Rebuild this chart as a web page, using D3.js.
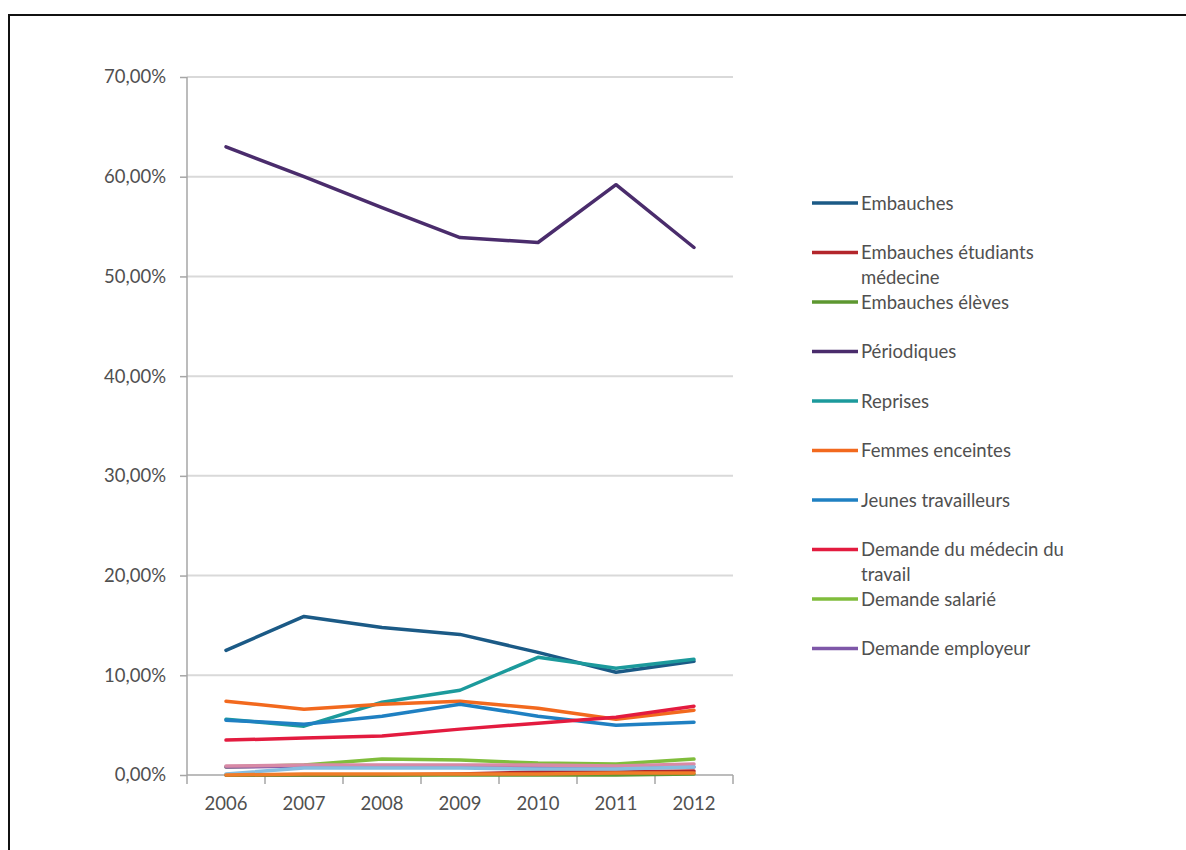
<!DOCTYPE html>
<html lang="fr">
<head>
<meta charset="utf-8">
<script src="https://cdn.jsdelivr.net/npm/d3@7/dist/d3.min.js"></script>
<style>
  html, body { margin: 0; padding: 0; background: #fff; }
  svg { display: block; }
  text { font-family: Lato, "Open Sans", sans-serif; fill: #505050; }
</style>
</head>
<body>
<svg id="chart" width="1186" height="850"></svg>
<script>
// Années en abscisse
const years = ["2006", "2007", "2008", "2009", "2010", "2011", "2012"];

// Graduations de l'axe vertical (proportions)
const yTicks = [0, 0.1, 0.2, 0.3, 0.4, 0.5, 0.6, 0.7];

// Part de chaque type de visite, par année
const embauches           = [0.125, 0.159, 0.148, 0.141, 0.123, 0.103, 0.114];
const embauchesEtudiants  = [0.000, 0.000, 0.000, 0.001, 0.003, 0.003, 0.004];
const embauchesEleves     = [0.000, 0.000, 0.000, 0.000, 0.000, 0.000, 0.001];
const periodiques         = [0.630, 0.600, 0.569, 0.539, 0.534, 0.592, 0.529];
const reprises            = [0.056, 0.049, 0.073, 0.085, 0.118, 0.107, 0.116];
const femmesEnceintes     = [0.074, 0.066, 0.071, 0.074, 0.067, 0.056, 0.065];
const jeunesTravailleurs  = [0.055, 0.051, 0.059, 0.071, 0.059, 0.050, 0.053];
const demandeMedecin      = [0.035, 0.037, 0.039, 0.046, 0.052, 0.058, 0.069];
const demandeSalarie      = [0.008, 0.010, 0.016, 0.015, 0.012, 0.011, 0.016];
const demandeEmployeur    = [0.008, 0.009, 0.008, 0.008, 0.007, 0.007, 0.008];
const autresVisites       = [0.009, 0.010, 0.010, 0.010, 0.010, 0.009, 0.011];
const preReprises         = [0.001, 0.007, 0.007, 0.007, 0.006, 0.006, 0.008];
const surveillance        = [0.000, 0.001, 0.001, 0.001, 0.001, 0.002, 0.002];

const seriesNames = [
  "Embauches", "Embauches étudiants médecine", "Embauches élèves", "Périodiques",
  "Reprises", "Femmes enceintes", "Jeunes travailleurs", "Demande du médecin du travail",
  "Demande salarié", "Demande employeur", "Autres visites", "Pré-reprises", "Surveillance"
];
const seriesValues = [
  embauches, embauchesEtudiants, embauchesEleves, periodiques, reprises, femmesEnceintes,
  jeunesTravailleurs, demandeMedecin, demandeSalarie, demandeEmployeur,
  autresVisites, preReprises, surveillance
];
const seriesColors = [
  "#1b5a86", "#b3262b", "#5d9730", "#4a2c6c", "#1c9a9c", "#f2691e",
  "#1f80c2", "#e31b3f", "#80bd3c", "#7e57a8", "#d88aa6", "#86bde0", "#f07c28"
];
// Nombre de séries présentes dans la légende
const legendCount = 10;

const FONT = 18.5;
const svg = d3.select("#chart");

// Cadre
svg.append("path")
  .attr("d", "M9,850 L9,15 L1186,15")
  .attr("fill", "none")
  .attr("stroke", "#111")
  .attr("stroke-width", 2);

const plot = { left: 187, right: 733, top: 77, bottom: 775 };

const x = d3.scaleBand().domain(years).range([plot.left, plot.right]);
const y = d3.scaleLinear().domain([0, 0.7]).range([plot.bottom, plot.top]);

const fmt = v => d3.format(".2f")(v * 100).replace(".", ",") + "%";

// Quadrillage horizontal
svg.append("g")
  .selectAll("line")
  .data(yTicks.filter(t => t > 0))
  .join("line")
  .attr("x1", plot.left).attr("x2", plot.right)
  .attr("y1", d => y(d)).attr("y2", d => y(d))
  .attr("stroke", "#d9d9d9")
  .attr("stroke-width", 2);

// Axe vertical
const yAxis = svg.append("g")
  .attr("transform", `translate(${plot.left},0)`)
  .call(d3.axisLeft(y).tickValues(yTicks).tickFormat(fmt).tickSize(7).tickPadding(14));
yAxis.select(".domain").attr("stroke", "#a6a6a6").attr("stroke-width", 1.5)
  .attr("d", `M0,${plot.top}V${plot.bottom + 9}`);
yAxis.selectAll(".tick line").attr("stroke", "#a6a6a6").attr("stroke-width", 1.5);
yAxis.selectAll(".tick text")
  .attr("font-size", FONT)
  .attr("fill", "#505050")
  .style("font-family", "Lato, 'Open Sans', sans-serif");

// Axe horizontal
const xAxis = svg.append("g")
  .attr("transform", `translate(0,${plot.bottom})`)
  .call(d3.axisBottom(x).tickSize(0).tickPadding(22));
xAxis.select(".domain").attr("stroke", "#a6a6a6").attr("stroke-width", 1.5)
  .attr("d", `M${plot.left},0H${plot.right}`);
xAxis.selectAll(".tick text")
  .attr("font-size", FONT)
  .attr("fill", "#505050")
  .style("font-family", "Lato, 'Open Sans', sans-serif");

// Graduations entre les catégories
svg.append("g")
  .selectAll("line")
  .data(years)
  .join("line")
  .attr("x1", d => x(d) + x.step())
  .attr("x2", d => x(d) + x.step())
  .attr("y1", plot.bottom).attr("y2", plot.bottom + 9)
  .attr("stroke", "#a6a6a6")
  .attr("stroke-width", 1.5);

// Courbes, dans l'ordre des séries (les dernières au-dessus)
const line = d3.line()
  .x((d, i) => x(years[i]) + x.bandwidth() / 2)
  .y(d => y(d));

svg.append("g")
  .selectAll("path")
  .data(d3.range(seriesNames.length))
  .join("path")
  .attr("d", i => line(seriesValues[i]))
  .attr("fill", "none")
  .attr("stroke", i => seriesColors[i])
  .attr("stroke-width", 3.5)
  .attr("stroke-linejoin", "round")
  .attr("stroke-linecap", "round");

// Légende
const legendRows = [
  ["Embauches"],
  ["Embauches étudiants", "médecine"],
  ["Embauches élèves"],
  ["Périodiques"],
  ["Reprises"],
  ["Femmes enceintes"],
  ["Jeunes travailleurs"],
  ["Demande du médecin du", "travail"],
  ["Demande salarié"],
  ["Demande employeur"]
];

const legend = svg.append("g");
const item = legend.selectAll("g")
  .data(d3.range(legendCount))
  .join("g")
  .attr("transform", i => `translate(812,${203 + i * 49.5})`);

item.append("line")
  .attr("x1", 0).attr("x2", 46)
  .attr("y1", 0).attr("y2", 0)
  .attr("stroke", i => seriesColors[i])
  .attr("stroke-width", 3.5);

item.append("text")
  .attr("x", 49)
  .attr("y", 6.5)
  .attr("font-size", FONT)
  .selectAll("tspan")
  .data(i => legendRows[i])
  .join("tspan")
  .attr("x", 49)
  .attr("dy", (d, j) => j === 0 ? 0 : 25)
  .text(d => d);
</script>
</body>
</html>
